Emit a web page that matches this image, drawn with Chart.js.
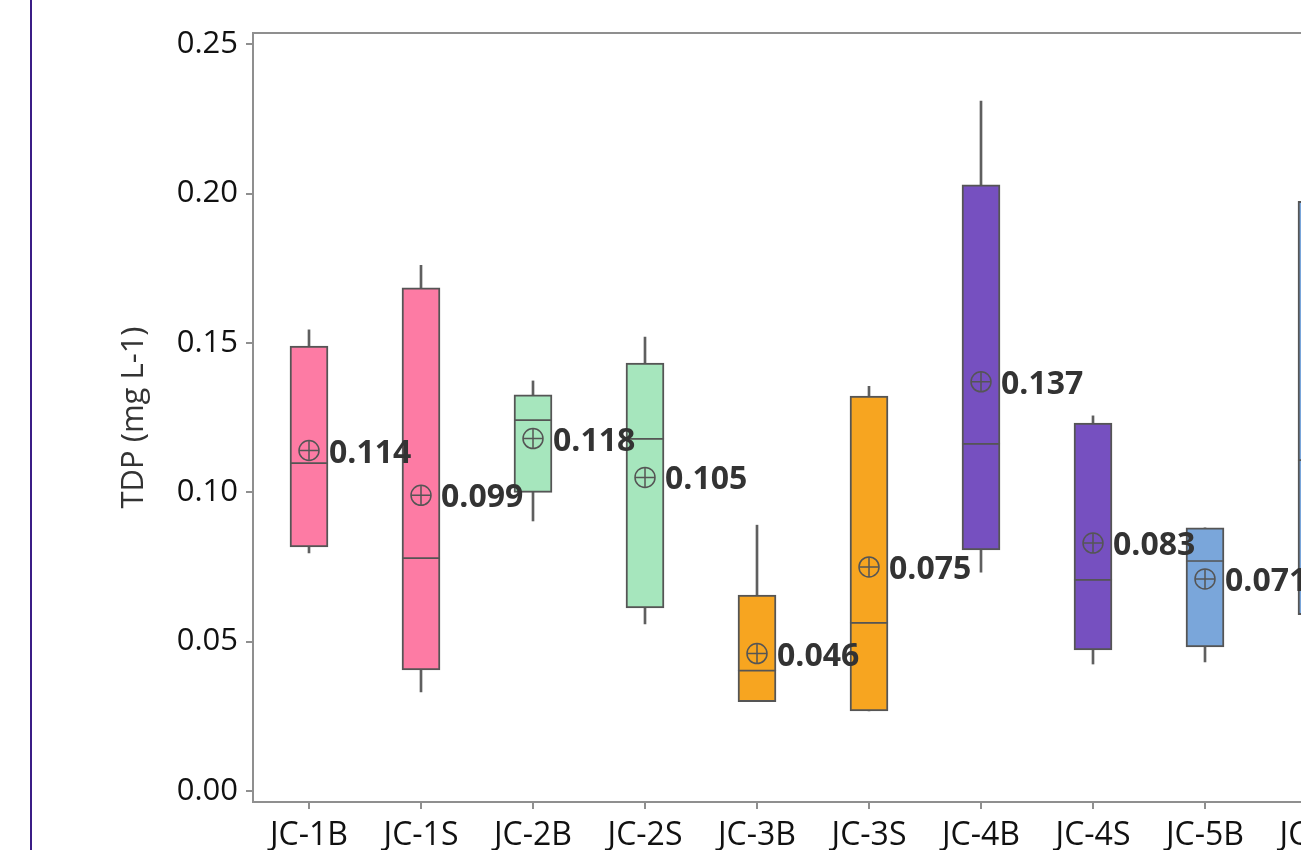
<!DOCTYPE html>
<html>
<head>
<meta charset="utf-8">
<script src="https://cdn.jsdelivr.net/npm/chart.js@4"></script>
<style>
  html, body { margin: 0; padding: 0; background: #fff; overflow: hidden; width: 1301px; height: 850px; }
  #wrap { position: absolute; left: 0; top: 0; width: 1420px; height: 880px; }
  #frameLine { position: absolute; left: 30px; top: 0; width: 2px; height: 850px; background: #3b1d86; }
</style>
</head>
<body>
<div id="frameLine"></div>
<div id="wrap"><canvas id="c" width="1420" height="880"></canvas></div>
<script>
const categories = ['JC-1B','JC-1S','JC-2B','JC-2S','JC-3B','JC-3S','JC-4B','JC-4S','JC-5B','JC-5S'];
const whiskerMin = [0.0797, 0.0332, 0.0904, 0.0559, 0.0299, 0.0268, 0.0733, 0.0425, 0.0432, 0.052];
const q1Values   = [0.0817, 0.0405, 0.1000, 0.0613, 0.0299, 0.0268, 0.0807, 0.0472, 0.0482, 0.059];
const medians    = [0.1098, 0.0780, 0.1242, 0.1179, 0.0403, 0.0563, 0.1162, 0.0707, 0.0770, 0.1108];
const q3Values   = [0.1490, 0.1685, 0.1326, 0.1433, 0.0656, 0.1322, 0.2030, 0.1232, 0.0881, 0.1974];
const whiskerMax = [0.1544, 0.1760, 0.1373, 0.1520, 0.0890, 0.1355, 0.2310, 0.1256, 0.0881, 0.2150];
const means      = [0.114, 0.099, 0.118, 0.105, 0.046, 0.075, 0.137, 0.083, 0.071, 0.118];
const boxColors  = ['#fd7ba4','#fd7ba4','#a6e6bd','#a6e6bd','#f7a520','#f7a520','#7650c0','#7650c0','#7aa6da','#7aa6da'];
const yTicks     = [0.00, 0.05, 0.10, 0.15, 0.20, 0.25];

const FONT = "'Open Sans', 'Noto Sans', sans-serif";

const whiskers = categories.map((c, i) => [whiskerMin[i], whiskerMax[i]]);
const lowerBox = categories.map((c, i) => [q1Values[i], medians[i]]);
const upperBox = categories.map((c, i) => [medians[i], q3Values[i]]);

const framePlugin = {
  id: 'frame',
  afterDraw(chart) {
    const a = chart.chartArea, ctx = chart.ctx;
    ctx.save();
    ctx.strokeStyle = '#8f8f8f';
    ctx.lineWidth = 2;
    ctx.beginPath();
    ctx.moveTo(a.left, a.bottom);
    ctx.lineTo(a.left, a.top);
    ctx.lineTo(a.right, a.top);
    ctx.lineTo(a.right, a.bottom);
    ctx.lineTo(a.left, a.bottom);
    ctx.stroke();
    ctx.restore();
  }
};

const meanLabelPlugin = {
  id: 'meanLabels',
  afterDatasetsDraw(chart) {
    const ctx = chart.ctx, xs = chart.scales.x, ys = chart.scales.y;
    ctx.save();
    ctx.font = "bold 32px " + FONT;
    ctx.fillStyle = '#333333';
    ctx.textAlign = 'left';
    ctx.textBaseline = 'middle';
    means.forEach((m, i) => {
      const x = xs.getPixelForValue(i) + 20;
      const y = ys.getPixelForValue(m) + 3;
      ctx.fillText(m.toFixed(3), x, y);
    });
    ctx.restore();
  }
};

new Chart(document.getElementById('c'), {
  type: 'bar',
  data: {
    labels: categories,
    datasets: [
      { label: 'whisker', data: whiskers, backgroundColor: '#5f5f5f', borderWidth: 0,
        barThickness: 2, grouped: false, order: 5 },
      { label: 'lower', data: lowerBox, backgroundColor: boxColors, borderColor: '#555555',
        borderWidth: { top: 1.2, bottom: 2, left: 2, right: 2 }, borderSkipped: false, barThickness: 38, grouped: false, order: 4 },
      { label: 'upper', data: upperBox, backgroundColor: boxColors, borderColor: '#555555',
        borderWidth: { top: 2, bottom: 1.2, left: 2, right: 2 }, borderSkipped: false, barThickness: 38, grouped: false, order: 3 },
      { type: 'line', label: 'meanCircle', data: means, showLine: false, pointStyle: 'circle',
        pointRadius: 10, pointBackgroundColor: 'rgba(0,0,0,0)', pointBorderColor: '#555555',
        pointBorderWidth: 1.5, order: 2 },
      { type: 'line', label: 'meanCross', data: means, showLine: false, pointStyle: 'cross',
        pointRadius: 10, pointBorderColor: '#555555', pointBorderWidth: 1.5, order: 1 }
    ]
  },
  options: {
    responsive: false,
    devicePixelRatio: 1,
    animation: false,
    layout: { padding: { left: 112, top: 33, right: 47, bottom: 0 } },
    plugins: { legend: { display: false }, tooltip: { enabled: false } },
    scales: {
      x: {
        type: 'category',
        offset: true,
        grid: { display: true, drawOnChartArea: false, offset: false, tickLength: 7, color: '#8f8f8f', lineWidth: 2 },
        border: { display: true, color: '#8f8f8f', width: 2 },
        ticks: { color: '#111111', font: { family: FONT, size: 32 }, padding: 8, maxRotation: 0, autoSkip: false },
        afterFit(scale) { scale.height = 78; }
      },
      y: {
        min: -0.0037,
        max: 0.2538,
        grid: { display: true, drawOnChartArea: false, tickLength: 7, color: '#8f8f8f', lineWidth: 2 },
        border: { display: true, color: '#8f8f8f', width: 2 },
        ticks: { color: '#111111', font: { family: FONT, size: 31 }, padding: 8, includeBounds: false,
                 callback: (v) => Number(v).toFixed(2) },
        afterBuildTicks(scale) { scale.ticks = yTicks.map(v => ({ value: v })); },
        title: { display: true, text: 'TDP (mg L-1)', color: '#333333', font: { family: FONT, size: 31 }, padding: 4 },
        afterFit(scale) { scale.width = 141; }
      }
    }
  },
  plugins: [framePlugin, meanLabelPlugin]
});
</script>
</body>
</html>
